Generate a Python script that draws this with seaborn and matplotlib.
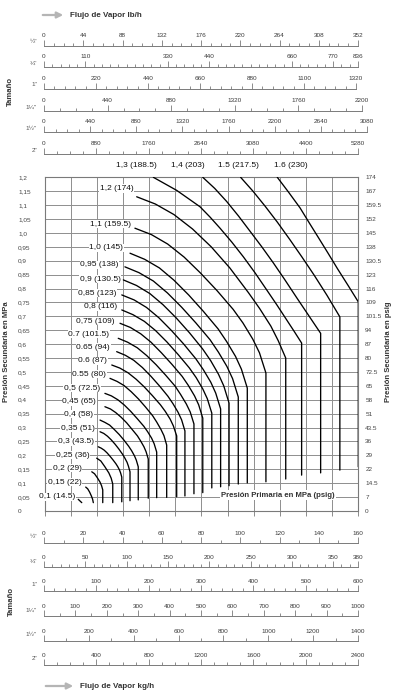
import numpy as np
import pandas as pd
import matplotlib
matplotlib.use("Agg")
import matplotlib.pyplot as plt
import seaborn as sns

# ---------------- data ----------------
# secondary pressure axis (MPa) and its psig equivalents
P2_TICKS = [round(0.05 * i, 2) for i in range(25)]
P2_MPA_LABELS = ["0", "0,05", "0,1", "0,15", "0,2", "0,25", "0,3", "0,35", "0,4", "0,45",
                 "0,5", "0,55", "0,6", "0,65", "0,7", "0,75", "0,8", "0,85", "0,9", "0,95",
                 "1,0", "1,05", "1,1", "1,15", "1,2"]
P2_PSIG_LABELS = ["0", "7", "14.5", "22", "29", "36", "43.5", "51", "58", "65", "72.5", "80",
                  "87", "94", "101.5", "109", "116", "123", "130.5", "138", "145", "152",
                  "159.5", "167", "174"]

# curves: x = steam flow (kg/h, 1/2" scale), y = secondary pressure (MPa)
flow_010 = [17.2, 19.0]
p2_010 = [0.042, 0.030]
flow_015 = [21.0, 22.0, 23.0, 23.9, 24.5, 24.9]
p2_015 = [0.086, 0.080, 0.068, 0.054, 0.043, 0.030]
flow_020 = [24.1, 25.5, 26.9, 28.3, 29.1, 29.7, 29.7]
p2_020 = [0.141, 0.134, 0.120, 0.104, 0.091, 0.076, 0.030]
flow_025 = [26.6, 28.7, 30.7, 32.8, 34.0, 34.8, 34.8]
p2_025 = [0.190, 0.180, 0.160, 0.137, 0.118, 0.097, 0.030]
flow_030 = [27.4, 28.9, 30.4, 31.9, 33.4, 34.9, 36.4, 37.3, 38.2, 38.8, 39.4, 39.4]
p2_030 = [0.231, 0.226, 0.219, 0.209, 0.197, 0.184, 0.170, 0.160, 0.148, 0.137, 0.122, 0.033]
flow_035 = [28.3, 30.2, 32.1, 34.0, 36.0, 37.9, 39.8, 40.9, 42.1, 42.8, 43.6, 43.6]
p2_035 = [0.285, 0.279, 0.269, 0.256, 0.240, 0.223, 0.204, 0.191, 0.175, 0.161, 0.141, 0.037]
flow_040 = [28.3, 30.7, 33.2, 35.6, 38.1, 40.5, 42.9, 44.4, 45.9, 46.8, 47.8, 47.8]
p2_040 = [0.327, 0.319, 0.309, 0.293, 0.275, 0.255, 0.233, 0.217, 0.198, 0.183, 0.159, 0.040]
flow_045 = [30.8, 33.6, 36.3, 39.1, 41.9, 44.6, 47.4, 49.0, 50.7, 51.8, 52.9, 52.9]
p2_045 = [0.375, 0.367, 0.354, 0.337, 0.317, 0.294, 0.270, 0.252, 0.231, 0.213, 0.187, 0.046]
flow_050 = [30.8, 34.1, 37.4, 40.7, 44.0, 47.3, 50.6, 52.6, 54.6, 55.9, 57.2, 57.2]
p2_050 = [0.423, 0.414, 0.400, 0.381, 0.358, 0.332, 0.305, 0.285, 0.262, 0.242, 0.212, 0.048]
flow_055 = [33.4, 37.0, 40.6, 44.2, 47.9, 51.5, 55.1, 57.2, 59.4, 60.9, 62.3, 62.3]
p2_055 = [0.477, 0.466, 0.451, 0.429, 0.403, 0.374, 0.343, 0.320, 0.293, 0.271, 0.237, 0.049]
flow_060 = [34.3, 38.4, 42.6, 46.7, 50.9, 55.0, 59.1, 61.6, 64.1, 65.7, 67.4, 67.4]
p2_060 = [0.525, 0.514, 0.497, 0.474, 0.446, 0.415, 0.382, 0.358, 0.330, 0.306, 0.270, 0.051]
flow_065 = [36.8, 41.2, 45.5, 49.9, 54.2, 58.6, 62.9, 65.5, 68.1, 69.9, 71.6, 71.6]
p2_065 = [0.573, 0.560, 0.542, 0.516, 0.485, 0.450, 0.413, 0.386, 0.355, 0.328, 0.288, 0.054]
flow_070 = [37.6, 42.4, 47.3, 52.1, 56.9, 61.7, 66.6, 69.4, 72.3, 74.3, 76.2, 76.2]
p2_070 = [0.621, 0.607, 0.587, 0.559, 0.526, 0.489, 0.449, 0.419, 0.385, 0.356, 0.313, 0.062]
flow_075 = [38.5, 43.8, 49.1, 54.3, 59.6, 64.9, 70.2, 73.3, 76.5, 78.6, 80.7, 80.7]
p2_075 = [0.675, 0.660, 0.637, 0.607, 0.569, 0.528, 0.484, 0.452, 0.414, 0.382, 0.334, 0.066]
flow_080 = [39.4, 45.1, 50.9, 56.6, 62.4, 68.1, 73.8, 77.3, 80.7, 83.0, 85.3, 85.3]
p2_080 = [0.723, 0.706, 0.682, 0.649, 0.608, 0.563, 0.515, 0.480, 0.439, 0.404, 0.352, 0.083]
flow_085 = [39.4, 45.7, 52.0, 58.3, 64.6, 70.9, 77.2, 81.0, 84.8, 87.3, 89.8, 89.8]
p2_085 = [0.777, 0.759, 0.732, 0.695, 0.650, 0.601, 0.547, 0.508, 0.463, 0.424, 0.367, 0.087]
flow_090 = [40.2, 46.9, 53.7, 60.4, 67.2, 73.9, 80.6, 84.7, 88.7, 91.4, 94.1, 94.1]
p2_090 = [0.831, 0.811, 0.782, 0.742, 0.694, 0.641, 0.583, 0.541, 0.492, 0.450, 0.388, 0.091]
flow_095 = [41.0, 48.2, 55.5, 62.7, 69.9, 77.1, 84.4, 88.7, 93.0, 95.9, 98.8, 98.8]
p2_095 = [0.878, 0.857, 0.827, 0.784, 0.733, 0.677, 0.616, 0.571, 0.520, 0.476, 0.410, 0.097]
flow_100 = [43.6, 51.1, 58.6, 66.0, 73.5, 81.0, 88.5, 92.9, 97.4, 100.4, 103.4, 103.4]
p2_100 = [0.927, 0.905, 0.874, 0.830, 0.777, 0.718, 0.655, 0.609, 0.556, 0.510, 0.442, 0.101]
flow_110 = [46.1, 54.5, 62.8, 71.2, 79.5, 87.9, 96.2, 101.2, 106.2, 109.6, 112.9, 112.9]
p2_110 = [1.017, 0.994, 0.960, 0.913, 0.856, 0.793, 0.725, 0.676, 0.618, 0.569, 0.496, 0.105]
flow_120 = [47.0, 56.5, 66.0, 75.5, 85.0, 94.5, 104.0, 109.7, 115.4, 119.2, 123.0, 123.0]
p2_120 = [1.130, 1.104, 1.066, 1.014, 0.950, 0.874, 0.785, 0.728, 0.665, 0.612, 0.550, 0.115]
flow_130 = [55.5, 67.4, 79.3, 84.4, 89.5, 95.5, 101.4, 107.4, 113.3, 118.4, 123.5, 127.3,
            131.1, 131.1]
p2_130 = [1.200, 1.153, 1.094, 1.057, 1.017, 0.967, 0.914, 0.856, 0.795, 0.742, 0.687, 0.646,
          0.604, 0.129]
flow_140 = [80.7, 86.8, 92.9, 98.9, 104.8, 110.8, 116.7, 122.6, 128.6, 134.7, 140.8, 140.8]
p2_140 = [1.200, 1.160, 1.113, 1.061, 1.006, 0.950, 0.892, 0.831, 0.767, 0.703, 0.639, 0.137]
flow_150 = [100.0, 106.3, 112.5, 118.8, 125.0, 131.3, 137.5, 144.0, 150.6, 150.6]
p2_150 = [1.200, 1.150, 1.096, 1.038, 0.977, 0.913, 0.848, 0.776, 0.698, 0.147]
flow_160 = [118.7, 124.5, 130.3, 135.0, 139.5, 144.5, 149.5, 154.8, 160.0, 160.0]
p2_160 = [1.200, 1.146, 1.090, 1.036, 0.985, 0.928, 0.870, 0.811, 0.752, 0.159]

CURVE_NAMES = ["0.10", "0.15", "0.20", "0.25", "0.30", "0.35", "0.40", "0.45", "0.50",
               "0.55", "0.60", "0.65", "0.70", "0.75", "0.80", "0.85", "0.90", "0.95",
               "1.00", "1.10", "1.20", "1.30", "1.40", "1.50", "1.60"]
CURVE_FLOWS = [flow_010, flow_015, flow_020, flow_025, flow_030, flow_035, flow_040,
               flow_045, flow_050, flow_055, flow_060, flow_065, flow_070, flow_075,
               flow_080, flow_085, flow_090, flow_095, flow_100, flow_110, flow_120,
               flow_130, flow_140, flow_150, flow_160]
CURVE_P2 = [p2_010, p2_015, p2_020, p2_025, p2_030, p2_035, p2_040, p2_045, p2_050,
            p2_055, p2_060, p2_065, p2_070, p2_075, p2_080, p2_085, p2_090, p2_095,
            p2_100, p2_110, p2_120, p2_130, p2_140, p2_150, p2_160]

# curve labels (primary pressure, MPa (psig))
SIDE_LABELS = ["0,1 (14.5)", "0,15 (22)", "0,2 (29)", "0,25 (36)", "0,3 (43.5)", "0,35 (51)",
               "0,4 (58)", "0,45 (65)", "0,5 (72.5)", "0.55 (80)", "0.6 (87)", "0.65 (94)",
               "0.7 (101.5)", "0,75 (109)", "0,8 (116)", "0,85 (123)", "0,9 (130.5)",
               "0,95 (138)", "1,0 (145)", "1,1 (159.5)", "1,2 (174)"]
SIDE_LABEL_X = [15.6, 19.0, 19.0, 22.8, 25.2, 25.7, 24.9, 26.3, 28.3, 31.4, 32.0, 33.4,
                33.0, 35.9, 37.1, 36.8, 38.9, 37.8, 40.2, 44.0, 45.2]
SIDE_LABEL_Y = [0.051, 0.103, 0.154, 0.201, 0.249, 0.297, 0.348, 0.393, 0.441, 0.492,
                0.540, 0.589, 0.636, 0.683, 0.735, 0.783, 0.833, 0.885, 0.947, 1.032, 1.160]
TOP_LABELS = ["1,3 (188.5)", "1,4 (203)", "1.5 (217.5)", "1.6 (230)"]
TOP_LABEL_X = [46.7, 73.2, 98.8, 125.6]

# flow scales
SIZES = ['½"', '¾"', '1"', '1¼"', '1½"', '2"']
lbh_half = [0, 44, 88, 132, 176, 220, 264, 308, 352]
lbh_3q = [0, 110, 330, 440, 660, 770, 836]
lbh_1 = [0, 220, 440, 660, 880, 1100, 1320]
lbh_114 = [0, 440, 880, 1320, 1760, 2200]
lbh_112 = [0, 440, 880, 1320, 1760, 2200, 2640, 3080]
lbh_2 = [0, 880, 1760, 2640, 3520, 4400, 5280]
lbh_2_labels = ["0", "880", "1760", "2640", "3080", "4400", "5280"]
lbh_minor = [11, 22, 44, 110, 110, 220]

kgh_half = [0, 20, 40, 60, 80, 100, 120, 140, 160]
kgh_3q = [0, 50, 100, 150, 200, 250, 300, 350, 380]
kgh_1 = [0, 100, 200, 300, 400, 500, 600]
kgh_114 = [0, 100, 200, 300, 400, 500, 600, 700, 800, 900, 1000]
kgh_112 = [0, 200, 400, 600, 800, 1000, 1200, 1400]
kgh_2 = [0, 400, 800, 1200, 1600, 2000, 2400]
kgh_minor = [10, 10, 20, 50, 100, 100]

# ---------------- drawing ----------------
sns.set_theme(style="white")
plt.rcParams["font.family"] = ["Liberation Sans", "DejaVu Sans"]

W, H = 395, 700
fig = plt.figure(figsize=(W / 100, H / 100), dpi=100)
fig.patch.set_facecolor("white")

GRID_C = "#8e8e8e"
TXT_C = "#333333"

# main chart
L, R, T, B = 44.5, 358.3, 177.3, 511.0
ax = fig.add_axes([L / W, 1 - B / H, (R - L) / W, (B - T) / H])
frames = []
for name, fl, p2 in zip(CURVE_NAMES, CURVE_FLOWS, CURVE_P2):
    frames.append(pd.DataFrame({"curve": name, "flow": fl, "p2": p2}))
df = pd.concat(frames, ignore_index=True)
sns.lineplot(data=df, x="flow", y="p2", units="curve", estimator=None, sort=False,
             color="black", linewidth=0.95, ax=ax, legend=False, zorder=3)
for ln in ax.lines:
    ln.set_solid_joinstyle("round")
ax.set_xlim(0, 160)
ax.set_ylim(0, 1.2)
ax.set_xticks(np.linspace(0, 160, 13))
ax.set_xticklabels([])
ax.set_yticks(P2_TICKS)
ax.set_yticklabels(P2_MPA_LABELS)
ax.set_xlabel("")
ax.set_ylabel("")
ax.grid(True, color=GRID_C, linewidth=0.7)
ax.set_axisbelow(True)
for s in ax.spines.values():
    s.set_color("#7a7a7a")
    s.set_linewidth(0.8)
ax.tick_params(axis="x", bottom=True, direction="out", length=3.6, width=0.6,
               color="#7a7a7a")
ax.tick_params(axis="y", left=False, length=0, pad=19, labelsize=4.6, labelcolor="#444444")
for t in ax.get_yticklabels():
    t.set_ha("left")

ax2 = ax.twinx()
ax2.set_ylim(0, 1.2)
ax2.set_yticks(P2_TICKS)
ax2.set_yticklabels(P2_PSIG_LABELS)
ax2.grid(False)
for s in ax2.spines.values():
    s.set_visible(False)
ax2.tick_params(axis="y", right=False, length=0, pad=5, labelsize=4.6, labelcolor="#444444")

for s, x, y in zip(SIDE_LABELS, SIDE_LABEL_X, SIDE_LABEL_Y):
    ax.text(x, y, s, ha="right", va="center", fontsize=6, color="#111111",
            bbox=dict(fc="white", ec="none", pad=0.4), zorder=6, clip_on=False)
for s, x in zip(TOP_LABELS, TOP_LABEL_X):
    ax.text(x, 1.2417, s, ha="center", va="center", fontsize=6, color="#111111",
            clip_on=False)
ax.text(119.1, 0.0575, "Presión Primaria en MPa (psig)", ha="center", va="center",
        fontsize=5.6, fontweight="bold", color=TXT_C,
        bbox=dict(fc="white", ec="none", pad=0.8), zorder=6)


def scale_row(y_line, x_end, vmax, major, labels, minor, pad):
    a = fig.add_axes([44 / W, 1 - y_line / H, (x_end - 44) / W, 1 / H])
    a.set_xlim(0, vmax)
    a.set_ylim(0, 1)
    a.patch.set_visible(False)
    for s in ["top", "left", "right"]:
        a.spines[s].set_visible(False)
    a.spines["bottom"].set_color("#7a7a7a")
    a.spines["bottom"].set_linewidth(0.7)
    a.set_yticks([])
    a.set_xticks(major)
    a.set_xticklabels(labels)
    a.set_xticks(np.arange(0, vmax + 1e-9, minor), minor=True)
    a.tick_params(axis="x", which="both", direction="in", bottom=True, top=False,
                  labelbottom=False, labeltop=True, color="#7a7a7a", width=0.6)
    a.tick_params(axis="x", which="major", length=4, pad=pad, labelsize=4.6,
                  labelcolor="#3a3a3a")
    a.tick_params(axis="x", which="minor", length=2.5)
    a.grid(False)


top_lines = [46, 67, 89, 111, 132, 154]
top_ends = [358, 358, 356, 362, 367, 358]
top_vals = [lbh_half, lbh_3q, lbh_1, lbh_114, lbh_112, lbh_2]
top_labs = [[str(v) for v in lbh_half], [str(v) for v in lbh_3q], [str(v) for v in lbh_1],
            [str(v) for v in lbh_114], [str(v) for v in lbh_112], lbh_2_labels]
for yl, xe, vals, labs, mn in zip(top_lines, top_ends, top_vals, top_labs, lbh_minor):
    scale_row(yl, xe, vals[-1], vals, labs, mn, 5.3)

bot_lines = [543, 567, 591, 616, 641, 665]
bot_vals = [kgh_half, kgh_3q, kgh_1, kgh_114, kgh_112, kgh_2]
for yl, vals, mn in zip(bot_lines, bot_vals, kgh_minor):
    scale_row(yl, 358, vals[-1], vals, [str(v) for v in vals], mn, 4.6)

# overlay for titles, arrows, size labels
ov = fig.add_axes([0, 0, 1, 1])
ov.set_xlim(0, W)
ov.set_ylim(H, 0)
ov.axis("off")

for s, yl in zip(SIZES, top_lines):
    ov.text(37, yl - 4, s, ha="right", va="center", fontsize=4.6, color="#555555")
for s, yl in zip(SIZES, bot_lines):
    ov.text(37, yl - 6, s, ha="right", va="center", fontsize=4.6, color="#555555")

arrow = dict(arrowstyle="-|>", color="#b5b5b5", lw=1.6, mutation_scale=9)
ov.annotate("", xy=(66, 15), xytext=(40, 15), arrowprops=arrow)
ov.text(70, 15.5, "Flujo de Vapor lb/h", ha="left", va="center", fontsize=5.8,
        fontweight="bold", color=TXT_C)
ov.annotate("", xy=(76, 686), xytext=(43, 686), arrowprops=arrow)
ov.text(80, 687, "Flujo de Vapor kg/h", ha="left", va="center", fontsize=5.8,
        fontweight="bold", color=TXT_C)

ov.text(10, 91, "Tamaño", rotation=90, ha="center", va="center", fontsize=5.6,
        fontweight="bold", color=TXT_C)
ov.text(11, 601, "Tamaño", rotation=90, ha="center", va="center", fontsize=5.6,
        fontweight="bold", color=TXT_C)
ov.text(6.7, 352, "Presión Secundaria en MPa", rotation=90, ha="center", va="center",
        fontsize=5.5, fontweight="bold", color=TXT_C)
ov.text(389, 352, "Presión Secundaria en psig", rotation=90, ha="center", va="center",
        fontsize=5.5, fontweight="bold", color=TXT_C)

fig.savefig("out.png", dpi=100, facecolor="white")
